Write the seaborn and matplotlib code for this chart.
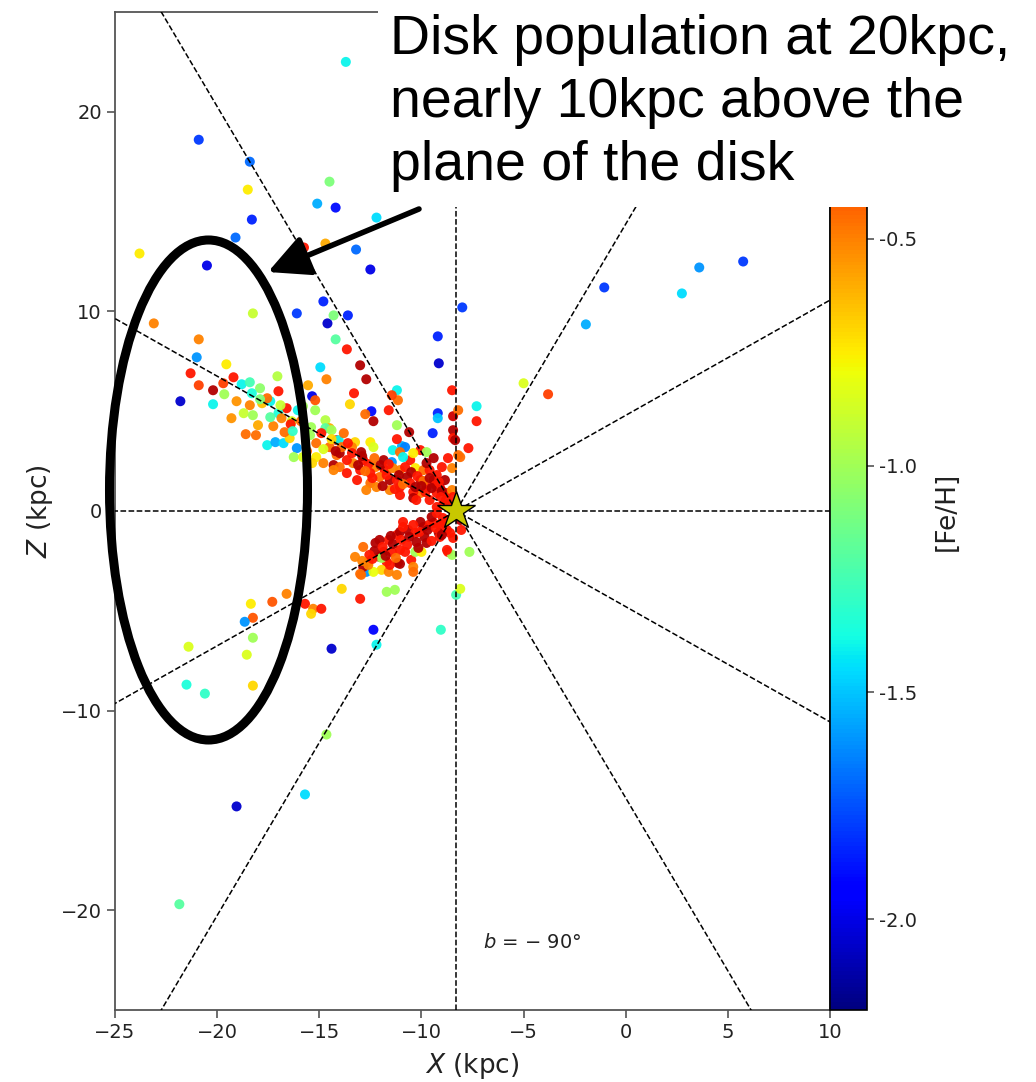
import numpy as np
import pandas as pd
import matplotlib
matplotlib.use("Agg")
import matplotlib.pyplot as plt
import seaborn as sns
from matplotlib.colors import Normalize
from matplotlib.cm import ScalarMappable
from matplotlib.patches import Ellipse, Rectangle, FancyArrowPatch
from matplotlib.ticker import FormatStrFormatter

# ---- sparse halo stars: X (kpc), Z (kpc), [Fe/H] ----
halo_x = [-13.7, -20.9, -18.4, -14.5, -18.5, -15.1, -14.2, -18.3, -12.2, -19.1,
          -23.8, -20.5, -15.75, -14.7, -13.2, -12.5, -18.25, -16.1, -14.8, -13.6,
          -14.6, -14.3, -14.2, -13.65, -23.1, -20.9, -21.0, -9.2, -9.15, -8.0,
          -1.95, -1.05, 2.75, 3.6, 5.75, -3.8, -5.0, -7.3, -7.3, -12.35,
          -12.2, -14.4, -21.4, -18.55, -21.5, -20.6, -18.25, -14.65, -15.7, -19.05,
          -21.85, -9.05, -8.3, -8.1]
halo_z = [22.5, 18.6, 17.5, 16.5, 16.1, 15.4, 15.2, 14.6, 14.7, 13.7,
          12.9, 12.3, 13.2, 13.4, 13.1, 12.1, 9.9, 9.9, 10.5, 9.8,
          9.4, 9.8, 8.6, 8.1, 9.4, 8.6, 7.7, 8.75, 7.4, 10.2,
          9.35, 11.2, 10.9, 12.2, 12.5, 5.85, 6.4, 5.25, 4.5, -5.95,
          -6.7, -6.9, -6.8, -7.2, -8.7, -9.15, -8.75, -11.2, -14.2, -14.8,
          -19.7, -5.95, -4.2, -3.9]
halo_feh = [-1.4, -1.8, -1.7, -1.1, -0.75, -1.55, -1.9, -1.85, -1.45, -1.7,
            -0.75, -2.0, -0.25, -0.6, -1.7, -2.0, -0.9, -1.8, -1.85, -1.85,
            -2.05, -1.1, -1.2, -0.25, -0.5, -0.5, -1.6, -1.85, -2.05, -1.8,
            -1.55, -1.8, -1.45, -1.6, -1.8, -0.35, -0.85, -1.4, -0.25, -1.95,
            -1.4, -2.05, -0.85, -0.85, -1.35, -1.3, -0.7, -1.0, -1.45, -2.05,
            -1.2, -1.3, -1.25, -0.85]

# ---- stars above the plane (northern disk stream) ----
north_x = [-19.55, -21.3, -20.9, -20.2, -21.8, -20.2, -19.65, -19.2, -18.6, -18.1,
           -19.3, -19.7, -18.8, -18.4, -17.9, -17.05, -17.0, -19.05, -18.3, -18.7,
           -18.25, -17.8, -17.4, -17.55, -16.6, -17.0, -18.0, -17.25, -17.55, -17.15,
           -16.75, -16.45, -16.7, -16.1, -16.25, -16.85, -16.35, -16.05, -15.8, -15.55,
           -15.35, -15.2, -14.95, -14.65, -15.2, -14.7, -14.5, -14.15, -14.5, -15.15,
           -15.15, -15.45, -14.3, -14.15, -14.8, -15.35, -15.8, -14.0, -13.0, -12.7,
           -13.3, -13.5, -12.45, -12.35, -11.6, -11.2, -11.15, -11.2, -10.95, -11.2,
           -10.8, -11.4, -11.05, -10.6, -8.5, -9.2, -9.2, -9.45, -8.45, -8.2,
           -8.45, -8.45, -7.7, -8.2, -8.7, -8.5, -12.75, -11.45, -8.35, -8.1,
           -10.05, -9.75, -9.4, -10.55, -11.85, -11.45, -11.05, -10.3, -9.9, -9.6,
           -9.0, -14.7, -14.4, -14.05, -13.8, -13.25, -13.4, -12.95, -12.5, -12.35,
           -12.85, -12.25, -11.8, -11.55, -11.2, -10.7, -10.55, -10.05, -9.75, -9.4,
           -9.25, -9.1, -8.75, -8.5, -8.45, -10.05, -10.4, -11.05, -11.55, -12.05,
           -12.5, -13.0, -13.35, -13.65, -14.0, -14.3, -13.65, -13.15, -12.5, -10.9,
           -10.4, -9.75, -9.25, -8.85, -9.6, -8.95, -10.4, -11.05, -12.7, -12.2,
           -10.25, -9.25, -12.9, -12.6, -12.3, -12.0, -11.7, -11.4, -11.1, -10.8,
           -10.5, -10.2, -9.9, -9.6, -9.3, -9.0, -8.8, -12.4, -11.9, -11.3,
           -10.9, -10.3, -9.8, -9.5, -9.05, -8.7, -13.4, -13.9, -14.4, -14.9,
           -15.4, -15.9, -16.4, -16.9, -17.4, -17.9, -18.4, -13.6, -14.2, -14.8,
           -15.6, -16.3, -13.1, -12.75, -11.6, -10.0, -9.15]
north_z = [7.35, 6.9, 6.3, 6.05, 5.5, 5.35, 5.85, 6.7, 3.85, 3.8,
           4.65, 6.4, 6.35, 6.45, 6.15, 6.75, 6.0, 5.5, 5.9, 4.9,
           4.8, 5.4, 5.5, 5.65, 5.15, 4.9, 4.3, 4.25, 3.3, 3.45,
           3.4, 3.65, 3.95, 3.15, 2.7, 4.65, 4.5, 5.05, 5.25, 6.3,
           5.75, 5.55, 7.2, 6.6, 5.05, 4.55, 4.15, 3.55, 3.2, 2.7,
           3.4, 3.8, 2.3, 2.8, 2.4, 2.4, 2.7, 2.2, 7.3, 6.6,
           5.9, 5.35, 5.0, 4.5, 5.05, 6.05, 5.55, 4.3, 3.25, 3.6,
           3.2, 3.05, 2.95, 3.95, 6.05, 4.9, 4.65, 3.9, 4.75, 5.05,
           4.05, 3.65, 3.15, 2.8, 2.65, 2.15, 4.85, 5.8, 3.55, 2.7,
           3.05, 2.95, 2.65, 2.55, 2.55, 2.45, 2.05, 2.15, 2.05, 2.05,
           2.2, 4.15, 4.05, 3.55, 3.9, 3.45, 3.2, 2.95, 3.45, 3.2,
           2.55, 2.2, 2.05, 1.55, 1.55, 1.7, 1.4, 1.55, 1.2, 1.55,
           0.9, 1.2, 0.9, 1.05, 0.7, 0.9, 0.95, 1.2, 1.05, 1.7,
           1.9, 2.05, 2.4, 2.55, 2.9, 2.05, 1.9, 1.55, 1.4, 2.7,
           2.9, 2.4, 1.8, 1.55, 0.55, 0.3, 0.65, 0.8, 1.05, 1.2,
           0.55, 0.2, 2.75, 2.35, 2.65, 2.3, 1.8, 2.15, 1.8, 2.2,
           1.95, 1.75, 1.5, 1.65, 1.3, 1.0, 0.55, 1.65, 1.25, 1.1,
           1.35, 1.2, 0.95, 1.15, 0.7, 0.35, 2.9, 3.2, 3.6, 3.9,
           4.2, 4.5, 4.35, 5.3, 4.7, 5.6, 5.3, 3.4, 3.0, 3.1,
           3.0, 4.0, 2.3, 2.0, 2.35, 1.25, 1.45]
north_feh = [-0.75, -0.25, -0.35, -0.1, -2.05, -1.4, -1.0, -0.25, -0.45, -0.45,
             -0.55, -0.35, -1.4, -1.25, -1.05, -0.95, -0.25, -0.55, -1.35, -0.9,
             -1.0, -0.65, -1.4, -0.45, -0.25, -1.35, -0.6, -0.5, -1.4, -1.55,
             -1.45, -0.7, -0.45, -1.6, -1.0, -0.5, -0.85, -1.4, -1.0, -0.6,
             -2.0, -0.4, -1.45, -0.5, -1.0, -0.95, -0.6, -0.25, -0.45, -0.75,
             -0.45, -1.0, -0.1, -0.45, -0.5, -0.7, -0.85, -0.45, -0.1, -0.1,
             -0.25, -0.7, -1.9, -0.1, -0.25, -1.4, -0.45, -1.0, -1.55, -0.25,
             -1.65, -1.4, -0.45, -0.1, -0.25, -1.85, -1.5, -1.85, -0.15, -0.45,
             -0.1, -0.25, -0.25, -0.45, -0.25, -0.5, -0.45, -0.35, -0.1, -0.45,
             -0.25, -1.0, -0.1, -0.25, -0.1, -1.6, -0.5, -0.75, -0.45, -0.25,
             -0.25, -1.2, -1.0, -1.4, -0.45, -0.7, -0.5, -0.1, -0.75, -0.85,
             -0.25, -0.5, -0.25, -0.1, -0.25, -0.1, -0.25, -0.15, -0.25, -0.1,
             -0.25, -0.2, -0.25, -0.5, -0.25, -0.45, -0.25, -0.25, -0.5, -0.45,
             -0.25, -0.25, -0.5, -0.25, -0.1, -0.5, -0.25, -0.25, -0.45, -1.4,
             -0.75, -0.1, -0.25, -0.1, -0.25, -0.25, -0.1, -0.25, -0.5, -0.5,
             -0.25, -0.25, -0.1, -0.25, -0.45, -0.1, -0.25, -0.5, -0.1, -0.25,
             -0.1, -0.25, -0.45, -0.1, -0.25, -0.1, -0.25, -0.25, -0.1, -0.25,
             -0.45, -0.1, -0.25, -0.1, -0.25, -0.25, -0.25, -0.45, -0.7, -0.25,
             -1.0, -0.45, -0.25, -0.9, -1.2, -1.1, -0.5, -0.25, -0.1, -0.85,
             -0.45, -1.3, -0.1, -0.45, -0.25, -0.1, -0.25]

# ---- stars below the plane (southern disk stream) ----
south_x = [-8.7, -8.5, -7.65, -11.7, -11.3, -12.85, -13.25, -12.25, -11.85, -11.6,
           -11.2, -11.05, -10.65, -10.3, -9.9, -9.65, -9.4, -9.1, -9.15, -9.85,
           -9.75, -10.25, -11.05, -10.8, -11.45, -12.05, -11.7, -12.6, -11.95, -11.6,
           -11.15, -10.5, -10.4, -10.4, -11.2, -12.7, -12.95, -12.35, -12.85, -10.3,
           -10.0, -8.75, -8.45, -8.05, -13.9, -13.0, -9.5, -9.25, -8.95, -10.05,
           -10.4, -10.9, -8.75, -9.1, -12.6, -13.0, -11.95, -11.55, -11.05, -12.05,
           -8.75, -8.1, -8.6, -15.7, -15.3, -14.9, -15.4, -16.6, -17.3, -18.35,
           -18.25, -18.65, -18.25, -12.3, -11.9, -11.4, -11.0, -10.6, -10.1, -9.7,
           -9.3, -8.9, -12.55, -11.75, -11.25, -10.7, -10.15, -9.5, -9.0, -12.9,
           -12.4, -11.5, -10.9]
south_z = [-2.05, -2.2, -2.05, -4.05, -3.95, -1.8, -2.3, -1.6, -2.05, -1.45,
           -1.2, -1.05, -0.95, -1.1, -0.8, -0.7, -0.6, -0.7, -1.1, -1.3,
           -1.6, -1.55, -1.95, -2.05, -2.05, -2.3, -2.55, -2.55, -2.95, -3.05,
           -2.6, -2.45, -2.8, -3.05, -3.2, -3.05, -3.2, -3.05, -2.8, -2.05,
           -2.05, -1.95, -1.35, -0.95, -3.9, -4.4, -0.3, -0.1, -0.35, -0.55,
           -0.7, -0.8, -0.95, -1.3, -2.7, -3.15, -2.35, -2.7, -2.65, -1.45,
           -0.45, -0.45, -1.1, -4.65, -4.9, -4.9, -5.15, -4.15, -4.55, -4.65,
           -5.35, -5.55, -6.35, -2.0, -1.8, -1.65, -1.45, -1.3, -1.05, -0.95,
           -0.85, -0.6, -2.2, -2.25, -2.35, -1.7, -1.85, -1.5, -1.2, -2.5,
           -2.4, -1.25, -0.55]
south_feh = [-0.25, -1.0, -1.0, -1.0, -1.0, -0.45, -0.5, -0.1, -0.1, -0.25,
             -0.25, -0.1, -0.1, -0.25, -0.1, -0.25, -0.25, -0.25, -0.1, -0.1,
             -0.1, -0.1, -0.25, -0.25, -0.25, -0.1, -0.25, -0.45, -0.7, -0.5,
             -0.1, -0.25, -0.5, -0.45, -0.5, -1.6, -0.45, -0.8, -0.1, -1.0,
             -0.75, -0.25, -0.25, -0.25, -0.7, -0.25, -0.1, -0.25, -0.25, -0.1,
             -0.25, -0.25, -0.25, -0.25, -0.5, -0.45, -1.0, -0.25, -0.1, -0.1,
             -0.25, -0.1, -0.25, -0.25, -0.5, -0.25, -0.7, -0.5, -0.4, -0.75,
             -0.4, -1.6, -1.0, -0.1, -0.25, -0.1, -0.25, -0.1, -0.25, -0.1,
             -0.25, -0.25, -0.25, -0.1, -0.45, -0.25, -0.1, -0.25, -0.1, -0.5,
             -0.25, -0.1, -0.25]

# ---- geometry and axis settings ----
sun_x = -8.3
sight_lines_deg = [0, 30, 60, 90, 120, 150]
x_ticks = [-25, -20, -15, -10, -5, 0, 5, 10]
z_ticks = [-20, -10, 0, 10, 20]
cbar_ticks = [-2.0, -1.5, -1.0, -0.5]
feh_min, feh_max = -2.2, 0.0

stars = pd.DataFrame({
    "X": halo_x + north_x + south_x,
    "Z": halo_z + north_z + south_z,
    "FeH": halo_feh + north_feh + south_feh,
})

sns.set_style("ticks")
plt.rcParams["font.family"] = ["DejaVu Sans"]
plt.rcParams["axes.edgecolor"] = "#555555"
plt.rcParams["xtick.color"] = "#555555"
plt.rcParams["ytick.color"] = "#555555"
plt.rcParams["xtick.labelcolor"] = "#222222"
plt.rcParams["ytick.labelcolor"] = "#222222"

W, H = 1036, 1082
fig = plt.figure(figsize=(W / 100, H / 100), dpi=100)
fig.patch.set_facecolor("white")


def fx(px):
    return px / W


def fy(py):
    return 1 - py / H


ax_left, ax_right, ax_top, ax_bottom = 115, 830, 12, 1010
ax = fig.add_axes([fx(ax_left), fy(ax_bottom), (ax_right - ax_left) / W, (ax_bottom - ax_top) / H])
cax = fig.add_axes([fx(ax_right), fy(ax_bottom), 37 / W, (ax_bottom - ax_top) / H])

jet = matplotlib.colormaps["jet"]
norm = Normalize(vmin=feh_min, vmax=feh_max)
sns.scatterplot(data=stars, x="X", y="Z", hue="FeH", palette=jet, hue_norm=norm,
                s=52, linewidth=0, alpha=0.95, legend=False, ax=ax, zorder=2)

# lines of sight from the Sun at fixed latitudes
for ang in sight_lines_deg:
    t = np.deg2rad(ang)
    ax.plot([sun_x - 80 * np.cos(t), sun_x + 80 * np.cos(t)],
            [-80 * np.sin(t), 80 * np.sin(t)],
            color="black", ls="--", lw=1.1, zorder=3)

ax.plot([sun_x], [0], marker="*", ms=29, mfc="#c8c800", mec="black", mew=1.0,
        ls="none", zorder=4)

ax.text(-7.0, -21.6, "$b$ = \u2212 90\u00b0", fontsize=14, va="center", ha="left", color="#222222")

ax.set_xlim(-25, 10)
ax.set_ylim(-25, 25)
ax.set_xticks(x_ticks)
ax.set_yticks(z_ticks)
ax.tick_params(labelsize=14, length=6, width=1.2)
for sp in ax.spines.values():
    sp.set_linewidth(1.3)
ax.set_xlabel(r"$X$ (kpc)", fontsize=19, color="#222222", labelpad=6)
ax.set_ylabel(r"$Z$ (kpc)", fontsize=19, color="#222222")

cb = fig.colorbar(ScalarMappable(norm=norm, cmap=jet), cax=cax)
cb.set_ticks(cbar_ticks)
cb.ax.yaxis.set_major_formatter(FormatStrFormatter("%.1f"))
cb.ax.tick_params(labelsize=14, length=5, width=1.2)
cb.outline.set_linewidth(1.2)
cb.outline.set_edgecolor("black")
cb.set_label("[Fe/H]", fontsize=19, labelpad=12, color="#222222")

# callout: white panel, caption, arrow and ring around the distant disk stars
fig.add_artist(Rectangle((fx(378), fy(207)), 1 - fx(378), fy(0) - fy(207),
                         transform=fig.transFigure, facecolor="white", edgecolor="none", zorder=5))
fig.text(fx(390), fy(14), "Disk population at 20kpc,\nnearly 10kpc above the\nplane of the disk",
         ha="left", va="top", fontsize=40, family=["Liberation Sans", "DejaVu Sans"],
         linespacing=1.27, color="black", zorder=6)
fig.add_artist(FancyArrowPatch((fx(419), fy(209)), (fx(268), fy(272)), transform=fig.transFigure,
                               arrowstyle="-|>,head_length=0.9,head_width=0.45", mutation_scale=28,
                               lw=4, color="black", shrinkA=0, shrinkB=0, zorder=6))
fig.add_artist(Ellipse((fx(208.5), fy(490)), width=198 / W, height=500 / H, transform=fig.transFigure,
                       fill=False, lw=6.5, edgecolor="black", zorder=6))

fig.savefig("out.png", dpi=100, facecolor="white")
